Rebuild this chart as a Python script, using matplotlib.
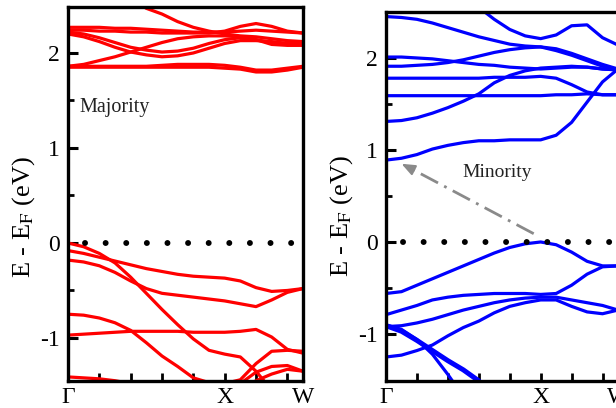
import numpy as np
import matplotlib
matplotlib.use("Agg")
import matplotlib.pyplot as plt
from matplotlib.ticker import FixedLocator

plt.rcParams['font.family'] = ['Liberation Serif', 'DejaVu Serif']
plt.rcParams['mathtext.fontset'] = 'stix'
plt.rcParams['axes.unicode_minus'] = False

nan = np.nan
# k-path: Gamma (0) -> X (1.0) -> W (1.5), sampled every 0.1
k_path = [0.0, 0.1, 0.2, 0.3, 0.4, 0.5, 0.6, 0.7, 0.8, 0.9, 1.0, 1.1, 1.2, 1.3, 1.4, 1.5]
sym_pos = [0.0, 1.0, 1.5]
sym_labels = ["Γ", "X", "W"]

# Majority spin bands (eV)
maj_v1 = [0.00, -0.04, -0.11, -0.21, -0.36, -0.53, -0.70, -0.86, -1.01, -1.13, -1.17, -1.20, -1.35, -1.55, nan, nan]
maj_v2 = [-0.08, -0.11, -0.15, -0.19, -0.23, -0.27, -0.30, -0.33, -0.35, -0.36, -0.37, -0.40, -0.47, -0.51, -0.50, -0.48]
maj_v3 = [-0.18, -0.20, -0.24, -0.31, -0.40, -0.48, -0.53, -0.55, -0.57, -0.59, -0.61, -0.64, -0.67, -0.60, -0.52, -0.48]
maj_v4 = [-0.97, -0.96, -0.95, -0.94, -0.93, -0.93, -0.93, -0.93, -0.94, -0.94, -0.94, -0.93, -0.91, -0.99, -1.12, -1.16]
maj_v5 = [-0.75, -0.76, -0.79, -0.84, -0.92, -1.05, -1.19, -1.30, -1.42, -1.47, -1.48, -1.44, -1.27, -1.14, -1.13, -1.14]
maj_v6 = [-1.41, -1.42, -1.43, -1.45, -1.48, -1.52, nan, nan, nan, nan, nan, nan, nan, nan, nan, nan]
maj_v7 = [nan, nan, nan, nan, nan, nan, nan, nan, nan, nan, -1.60, -1.48, -1.36, -1.30, -1.29, -1.35]
maj_v8 = [nan, nan, nan, nan, nan, nan, nan, nan, nan, nan, nan, -1.55, -1.45, -1.38, -1.33, -1.35]
maj_c1 = [1.85, 1.85, 1.85, 1.85, 1.85, 1.85, 1.85, 1.85, 1.85, 1.85, 1.84, 1.83, 1.80, 1.80, 1.82, 1.85]
maj_c2 = [1.86, 1.86, 1.86, 1.86, 1.86, 1.86, 1.87, 1.88, 1.88, 1.88, 1.87, 1.85, 1.82, 1.82, 1.84, 1.86]
maj_c3 = [1.86, 1.88, 1.92, 1.96, 2.01, 2.06, 2.11, 2.15, 2.17, 2.18, 2.18, 2.17, 2.14, 2.09, 2.08, 2.08]
maj_c4 = [2.20, 2.17, 2.12, 2.06, 2.01, 1.98, 1.96, 1.97, 2.00, 2.05, 2.10, 2.13, 2.13, 2.12, 2.10, 2.09]
maj_c5 = [2.22, 2.20, 2.16, 2.11, 2.06, 2.03, 2.01, 2.02, 2.05, 2.10, 2.14, 2.16, 2.14, 2.11, 2.10, 2.12]
maj_c6 = [2.27, 2.27, 2.27, 2.26, 2.26, 2.25, 2.24, 2.23, 2.22, 2.22, 2.22, 2.23, 2.24, 2.23, 2.22, 2.21]
maj_c7 = [2.24, 2.24, 2.23, 2.23, 2.22, 2.22, 2.21, 2.21, 2.21, 2.21, 2.23, 2.28, 2.31, 2.28, 2.23, 2.21]
maj_c8 = [nan, nan, nan, nan, 2.58, 2.47, 2.41, 2.33, 2.27, 2.23, 2.20, 2.18, 2.17, 2.15, 2.13, 2.12]

# Minority spin bands (eV)
min_v1 = [-0.56, -0.54, -0.47, -0.40, -0.33, -0.26, -0.19, -0.12, -0.06, -0.02, 0.00, -0.03, -0.11, -0.21, -0.26, -0.26]
min_v2 = [-0.79, -0.74, -0.69, -0.63, -0.60, -0.58, -0.57, -0.56, -0.56, -0.56, -0.57, -0.56, -0.47, -0.35, -0.27, -0.26]
min_v3 = [-0.92, -0.91, -0.88, -0.84, -0.79, -0.74, -0.70, -0.66, -0.63, -0.61, -0.60, -0.60, -0.63, -0.66, -0.69, -0.74]
min_v4 = [-1.25, -1.23, -1.18, -1.12, -1.02, -0.93, -0.86, -0.77, -0.70, -0.66, -0.63, -0.63, -0.70, -0.76, -0.78, -0.74]
min_v5 = [-0.90, -0.95, -1.06, -1.22, -1.44, -1.68, nan, nan, nan, nan, nan, nan, nan, nan, nan, nan]
min_v6 = [-0.91, -0.97, -1.07, -1.18, -1.29, -1.39, -1.51, nan, nan, nan, nan, nan, nan, nan, nan, nan]
min_c1 = [0.89, 0.91, 0.95, 1.01, 1.05, 1.08, 1.10, 1.10, 1.11, 1.11, 1.11, 1.16, 1.30, 1.52, 1.74, 1.88]
min_c2 = [1.31, 1.32, 1.35, 1.40, 1.46, 1.53, 1.61, 1.73, 1.81, 1.86, 1.89, 1.90, 1.91, 1.90, 1.88, 1.87]
min_c3 = [1.59, 1.59, 1.59, 1.59, 1.59, 1.59, 1.59, 1.59, 1.59, 1.59, 1.59, 1.60, 1.60, 1.61, 1.60, 1.60]
min_c4 = [1.78, 1.78, 1.78, 1.78, 1.78, 1.78, 1.78, 1.79, 1.79, 1.79, 1.80, 1.78, 1.71, 1.63, 1.60, 1.60]
min_c5 = [1.91, 1.91, 1.92, 1.93, 1.95, 1.98, 2.02, 2.06, 2.09, 2.11, 2.12, 2.08, 2.03, 1.97, 1.91, 1.87]
min_c6 = [2.01, 2.01, 2.00, 1.99, 1.97, 1.95, 1.93, 1.92, 1.90, 1.89, 1.88, 1.89, 1.90, 1.90, 1.88, 1.87]
min_c7 = [2.45, 2.44, 2.42, 2.38, 2.33, 2.28, 2.23, 2.19, 2.15, 2.13, 2.12, 2.10, 2.05, 1.99, 1.93, 1.88]
min_c8 = [nan, nan, nan, nan, nan, nan, 2.55, 2.42, 2.31, 2.24, 2.21, 2.25, 2.35, 2.36, 2.22, 2.14]

majority_bands = [maj_v1, maj_v2, maj_v3, maj_v4, maj_v5, maj_v6, maj_v7, maj_v8,
                  maj_c1, maj_c2, maj_c3, maj_c4, maj_c5, maj_c6, maj_c7, maj_c8]
minority_bands = [min_v1, min_v2, min_v3, min_v4, min_v5, min_c1, min_c2, min_c3,
                  min_c4, min_c5, min_c6, min_c7, min_c8]
minority_thick = [min_v6]

W, H = 616, 408
fig = plt.figure(figsize=(W / 100, H / 100), dpi=100)

def px_axes(x0, x1, y0, y1):
    return fig.add_axes([x0 / W, 1 - y1 / H, (x1 - x0) / W, (y1 - y0) / H])

axL = px_axes(68, 303, 7, 381)
axR = px_axes(386, 618, 11.5, 381)

def style(ax, ylim):
    ax.set_xlim(0, 1.5)
    ax.set_ylim(*ylim)
    for s in ax.spines.values():
        s.set_linewidth(2.4)
    ax.yaxis.set_major_locator(FixedLocator([-1, 0, 1, 2]))
    ax.yaxis.set_minor_locator(FixedLocator([-0.5, 0.5, 1.5]))
    ax.xaxis.set_major_locator(FixedLocator(sym_pos))
    ax.set_xticklabels(sym_labels)
    ax.xaxis.set_minor_locator(FixedLocator([0.2, 0.4, 0.6, 0.8, 1.2, 1.4]))
    ax.tick_params(axis='y', which='major', direction='in', length=7, width=2.2,
                   labelsize=17, pad=6, right=False)
    ax.tick_params(axis='y', which='minor', direction='in', length=4, width=2.0, right=False)
    ax.tick_params(axis='x', which='both', direction='in', length=5.5, width=2.0,
                   labelsize=17, pad=4, top=False)
    ax.axhline(0, color='black', lw=4.3, linestyle=(0.6, (0.001, 3.45)),
               dash_capstyle='round', zorder=3)

style(axL, (-1.453, 2.484))
style(axR, (-1.511, 2.505))

k = np.array(k_path)
for band in majority_bands:
    axL.plot(k, band, color='#ff0000', lw=2.3, solid_capstyle='round', solid_joinstyle='round')
for band in minority_bands:
    axR.plot(k, band, color='#0000ff', lw=2.3, solid_capstyle='round', solid_joinstyle='round')
for band in minority_thick:
    axR.plot(k, band, color='#0000ff', lw=3.6, solid_capstyle='round', solid_joinstyle='round')

axL.text(0.076, 1.43, "Majority", fontsize=14.5, va='center', ha='left', color='#222222')
axR.text(0.72, 0.75, "Minority", fontsize=14, va='center', ha='center', color='#222222')

# dash-dot arrow from the VBM at X towards the CBM at Gamma
arrow_start = (0.955, 0.09)
arrow_tip = (0.10, 0.85)
head_base = (0.17, 0.79)
axR.plot([arrow_start[0], head_base[0]], [arrow_start[1], head_base[1]], color='#8a8a8a',
         lw=2.0, linestyle=(0, (7, 2.5, 1, 2.5)), zorder=4)
axR.annotate("", xy=arrow_tip, xytext=head_base,
             arrowprops=dict(arrowstyle='-|>,head_length=0.8,head_width=0.32',
                             color='#8a8a8a', lw=1.5, shrinkA=0, shrinkB=0), zorder=4)

ylabel = r"E - E$_{\rm F}$ (eV)"
fig.text(24 / W, 1 - 217 / H, ylabel, rotation=90, ha='center', va='center', fontsize=19)
fig.text(342 / W, 1 - 216 / H, ylabel, rotation=90, ha='center', va='center', fontsize=19)

fig.savefig("out.png", dpi=100)
